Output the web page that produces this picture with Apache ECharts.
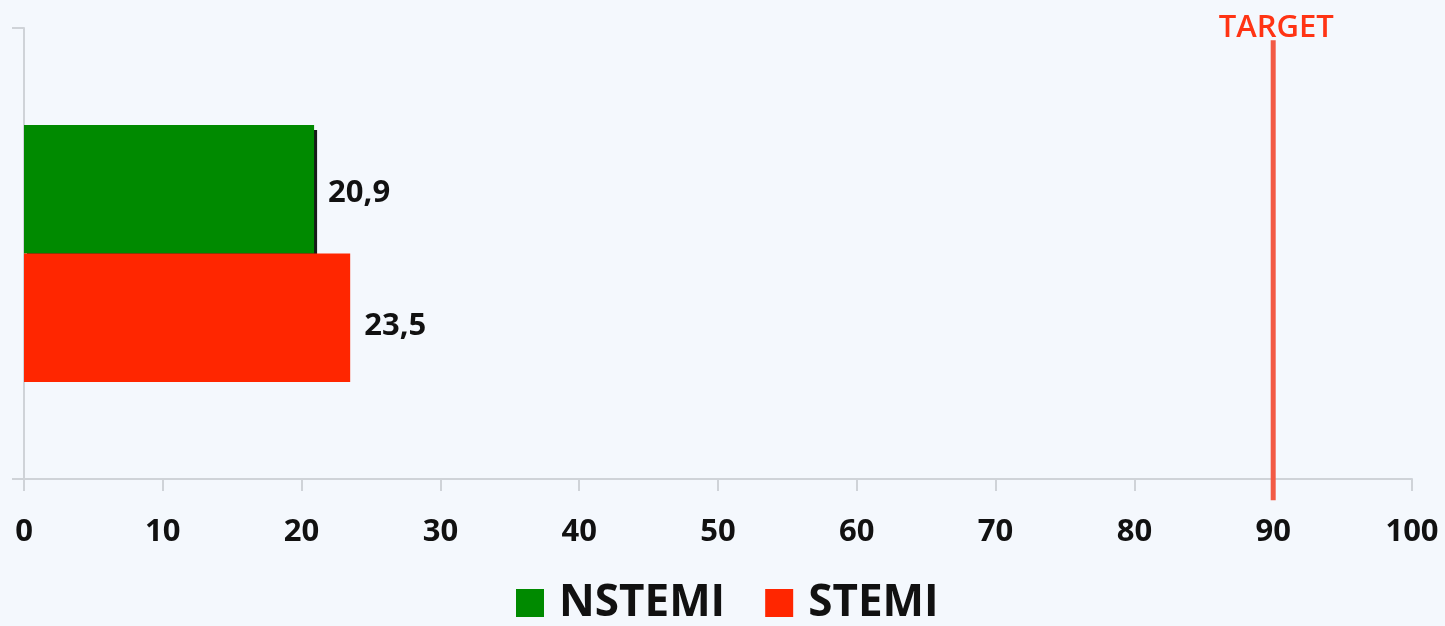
<!DOCTYPE html>
<html>
<head>
<meta charset="utf-8">
<script src="https://cdn.jsdelivr.net/npm/echarts@6/dist/echarts.min.js"></script>
<style>
  html, body { margin: 0; padding: 0; background: #f4f8fd; }
  #chart { width: 1445px; height: 626px; }
</style>
</head>
<body>
<div id="chart"></div>
<script>
// Share of patients by infarction type, against the target level
const categories = [''];
const seriesNames = ['NSTEMI', 'STEMI'];
const nstemiValues = [20.9];
const stemiValues = [23.5];
const targetValue = 90;
const targetLabel = 'TARGET';
const xTicks = { min: 0, max: 100, interval: 10 };

// Vertical reach of the target line on a hidden 0..1 helper axis
const targetReach = [-0.047, 0.973];

const axisGrey = '#cfd3d8';
const labelFont = "'Open Sans', 'DejaVu Sans', sans-serif";

const chart = echarts.init(document.getElementById('chart'), null, { renderer: 'canvas' });

const valueLabel = (extraOffset) => ({
  show: true,
  position: 'right',
  distance: 14,
  offset: [0, extraOffset],
  color: '#111',
  fontFamily: labelFont,
  fontWeight: 'bold',
  fontSize: 31,
  formatter: (p) => String(p.value).replace('.', ',')
});

chart.setOption({
  backgroundColor: '#f4f8fd',
  animation: false,
  grid: { left: 24, right: 33, top: 28, bottom: 147, containLabel: false },
  xAxis: {
    type: 'value',
    min: xTicks.min,
    max: xTicks.max,
    interval: xTicks.interval,
    splitLine: { show: false },
    axisLine: { show: true, lineStyle: { color: axisGrey, width: 2 } },
    axisTick: { show: true, length: 12, lineStyle: { color: axisGrey, width: 2 } },
    axisLabel: {
      margin: 38,
      color: '#111',
      fontFamily: labelFont,
      fontWeight: 'bold',
      fontSize: 31
    }
  },
  yAxis: [
    {
      type: 'category',
      data: categories,
      axisLine: { show: true, lineStyle: { color: axisGrey, width: 2 } },
      axisTick: { show: true, length: 12, lineStyle: { color: axisGrey, width: 2 } },
      axisLabel: { show: false },
      splitLine: { show: false }
    },
    { type: 'value', min: 0, max: 1, show: false }
  ],
  legend: {
    data: seriesNames,
    bottom: -4,
    left: 511,
    icon: 'rect',
    itemWidth: 28,
    itemHeight: 28,
    itemGap: 40,
    textStyle: {
      color: '#111',
      fontFamily: labelFont,
      fontWeight: 'bold',
      fontSize: 44,
      padding: [0, 0, 0, 10]
    }
  },
  series: [
    {
      name: seriesNames[0],
      type: 'bar',
      data: nstemiValues,
      barGap: '0%',
      barCategoryGap: '43%',
      z: 2,
      itemStyle: {
        color: '#008a00',
        shadowColor: 'rgba(0,0,0,0.9)',
        shadowBlur: 0,
        shadowOffsetX: 3,
        shadowOffsetY: 5
      },
      label: valueLabel(4)
    },
    {
      name: seriesNames[1],
      type: 'bar',
      data: stemiValues,
      barGap: '0%',
      barCategoryGap: '43%',
      z: 3,
      itemStyle: { color: '#ff2600' },
      label: valueLabel(8)
    },
    {
      name: targetLabel,
      type: 'line',
      yAxisIndex: 1,
      clip: false,
      symbol: 'none',
      silent: true,
      z: 4,
      lineStyle: { color: '#f25a45', width: 5 },
      data: [
        [targetValue, targetReach[0]],
        [targetValue, targetReach[1]]
      ],
      markPoint: {
        silent: true,
        symbol: 'rect',
        symbolSize: 0,
        data: [{ coord: [targetValue, targetReach[1]] }],
        label: {
          show: true,
          position: 'top',
          distance: -3,
          offset: [3, 0],
          formatter: targetLabel,
          color: '#ff3414',
          fontFamily: labelFont,
          fontWeight: 600,
          fontSize: 31
        }
      }
    }
  ]
});
</script>
</body>
</html>
